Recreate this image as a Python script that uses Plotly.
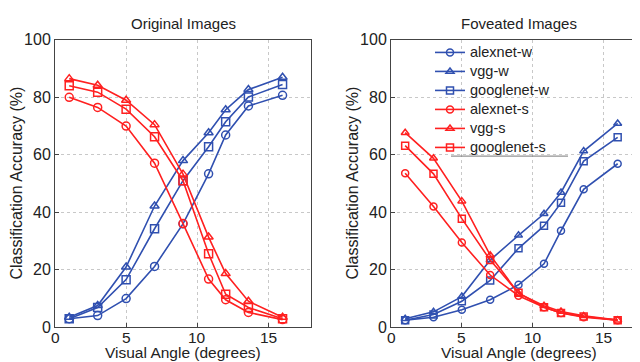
import plotly.graph_objects as go

# Visual angle (degrees)
angles = [1, 3, 5, 7, 9, 10.8, 12, 13.6, 16]
x_ticks = [0, 5, 10, 15]
y_ticks = [0, 20, 40, 60, 80, 100]

# Original images
orig_alexnet_w = [3.0, 4.1, 10.0, 21.2, 36.0, 53.4, 66.9, 77.0, 80.7]
orig_vgg_w = [3.5, 7.6, 21.0, 42.2, 58.0, 67.7, 75.7, 82.7, 87.0]
orig_googlenet_w = [3.0, 6.9, 16.6, 34.3, 51.0, 62.8, 71.5, 80.1, 84.5]
orig_alexnet_s = [80.0, 76.5, 70.0, 57.1, 36.1, 16.8, 9.6, 5.2, 2.7]
orig_vgg_s = [86.5, 84.2, 79.0, 70.5, 53.3, 31.4, 18.7, 9.1, 3.5]
orig_googlenet_s = [84.0, 81.8, 75.9, 66.3, 51.0, 25.6, 11.5, 6.9, 3.0]

# Foveated images
fov_alexnet_w = [2.5, 3.5, 6.1, 9.6, 14.8, 22.1, 33.6, 48.0, 56.9]
fov_vgg_w = [3.0, 5.4, 10.7, 23.4, 32.0, 39.5, 46.9, 61.3, 70.9]
fov_googlenet_w = [2.5, 4.5, 9.1, 16.3, 27.5, 35.3, 43.3, 57.8, 66.1]
fov_alexnet_s = [53.6, 42.0, 29.5, 18.2, 11.0, 7.0, 5.0, 3.5, 2.5]
fov_vgg_s = [67.7, 58.8, 43.9, 25.1, 11.8, 7.5, 5.5, 4.0, 2.5]
fov_googlenet_s = [63.2, 53.4, 37.8, 23.4, 12.0, 7.0, 5.0, 3.8, 2.5]

BLUE = "#3050b0"
RED = "#ff2020"
FONT = "Liberation Sans, Arial, sans-serif"
TXT = "#222"

series = [
    ("alexnet-w", BLUE, "circle-open"),
    ("vgg-w", BLUE, "triangle-up-open"),
    ("googlenet-w", BLUE, "square-open"),
    ("alexnet-s", RED, "circle-open"),
    ("vgg-s", RED, "triangle-up-open"),
    ("googlenet-s", RED, "square-open"),
]
orig_data = [orig_alexnet_w, orig_vgg_w, orig_googlenet_w,
             orig_alexnet_s, orig_vgg_s, orig_googlenet_s]
fov_data = [fov_alexnet_w, fov_vgg_w, fov_googlenet_w,
            fov_alexnet_s, fov_vgg_s, fov_googlenet_s]

fig = go.Figure()

for (name, color, symbol), ys in zip(series, orig_data):
    fig.add_trace(go.Scatter(
        x=angles, y=ys, mode="lines+markers", name=name,
        line=dict(color=color, width=1.6),
        marker=dict(symbol=symbol, size=8, color=color, line=dict(width=1.5, color=color)),
        xaxis="x", yaxis="y", showlegend=False,
    ))

# legend font is kept small so rows sit tight; the label itself is enlarged with a span
for (name, color, symbol), ys in zip(series, fov_data):
    fig.add_trace(go.Scatter(
        x=angles, y=ys, mode="lines+markers",
        name=f'<span style="font-size:14.5px">{name}</span>',
        line=dict(color=color, width=1.6),
        marker=dict(symbol=symbol, size=7, color=color, line=dict(width=1.5, color=color)),
        xaxis="x2", yaxis="y2", showlegend=True,
    ))

axis_common = dict(
    showline=True, linecolor="#444", linewidth=1, mirror=True,
    ticks="inside", ticklen=4, tickcolor="#444",
    showgrid=True, gridcolor="#c8c8c8", griddash="dot", gridwidth=1,
    zeroline=False,
    tickfont=dict(family=FONT, size=16, color=TXT),
)

# panel positions in pixels (left, right), shared top/bottom
left_px = (47, 303)
right_px = (383, 638)
top_px, bottom_px = 25, 326.7
legend_bottom = 147


def px_x(p):
    return p / 640


def px_y(p):
    return 1 - p / 362


fig.update_layout(
    width=640, height=362,
    margin=dict(l=0, r=0, t=0, b=0),
    paper_bgcolor="white", plot_bgcolor="white",
    font=dict(family=FONT, color=TXT),
    xaxis=dict(domain=[px_x(left_px[0]), px_x(left_px[1])], range=[0, 18], tickvals=x_ticks,
               showticklabels=False, **axis_common),
    yaxis=dict(domain=[px_y(bottom_px), px_y(top_px)], range=[0, 100], tickvals=y_ticks,
               **axis_common),
    xaxis2=dict(domain=[px_x(right_px[0]), px_x(right_px[1])], range=[0, 18], tickvals=x_ticks,
                showticklabels=False, anchor="y2", **axis_common),
    yaxis2=dict(domain=[px_y(bottom_px), px_y(top_px)], range=[0, 100], tickvals=y_ticks,
                anchor="x2", **axis_common),
    legend=dict(x=px_x(422), y=px_y(23), xanchor="left", yanchor="top",
                bgcolor="rgba(0,0,0,0)", borderwidth=0, tracegroupgap=0,
                font=dict(family=FONT, size=11, color=TXT), itemwidth=30),
    shapes=[
        dict(type="rect", xref="paper", yref="paper", x0=px_x(443), x1=px_x(560),
             y0=px_y(legend_bottom), y1=px_y(top_px), fillcolor="white",
             line=dict(width=0), layer="between"),
        dict(type="line", xref="paper", yref="paper", x0=px_x(443), x1=px_x(560),
             y0=px_y(legend_bottom), y1=px_y(legend_bottom),
             line=dict(color="#777", width=1)),
    ],
)

titles = [("Original Images", left_px, "x"), ("Foveated Images", right_px, "x2")]
for text, (x0, x1), xref in titles:
    cx = px_x((x0 + x1) / 2)
    fig.add_annotation(text=text, x=cx, y=px_y(8), xref="paper", yref="paper",
                       xanchor="center", yanchor="middle", showarrow=False,
                       font=dict(family=FONT, size=15, color=TXT))
    fig.add_annotation(text="Visual Angle (degrees)", x=cx, y=px_y(353.5), xref="paper", yref="paper",
                       xanchor="center", yanchor="middle", showarrow=False,
                       font=dict(family=FONT, size=15.5, color=TXT))
    fig.add_annotation(text="Classification Accuracy (%)", x=px_x(x0 - 38), y=px_y((top_px + bottom_px) / 2),
                       xref="paper", yref="paper", textangle=-90,
                       xanchor="center", yanchor="middle", showarrow=False,
                       font=dict(family=FONT, size=16, color=TXT))
    # x tick labels, placed on the axis scale
    for v in x_ticks:
        fig.add_annotation(text=str(v), x=v, y=px_y(337), xref=xref, yref="paper",
                           xanchor="center", yanchor="middle", showarrow=False,
                           font=dict(family=FONT, size=15.5, color=TXT))

fig.write_html("out.html")
